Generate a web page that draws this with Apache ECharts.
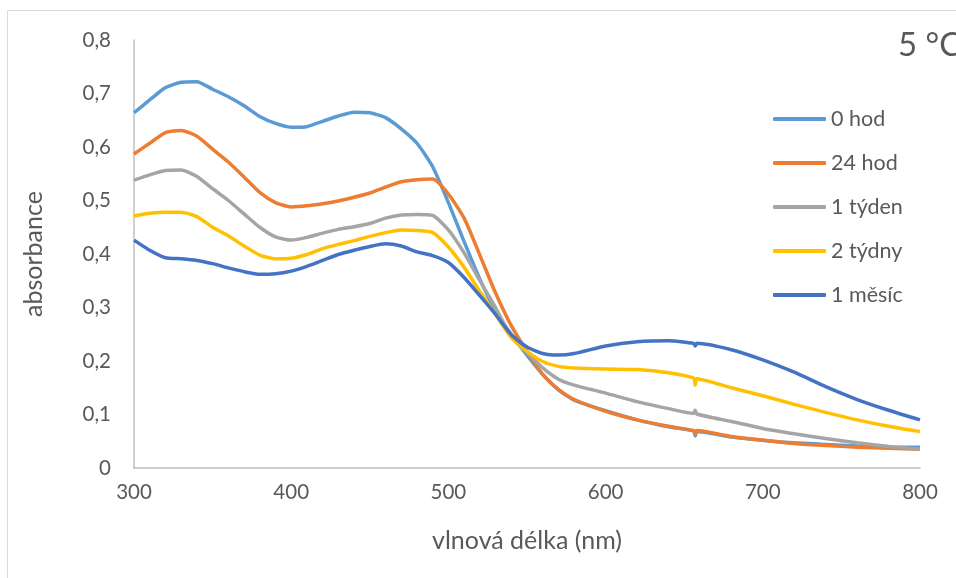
<!DOCTYPE html>
<html>
<head>
<meta charset="utf-8">
<script src="https://cdn.jsdelivr.net/npm/echarts@6/dist/echarts.min.js"></script>
<style>
  html, body { margin: 0; padding: 0; background: #fff; }
  #chart { width: 956px; height: 578px; }
</style>
</head>
<body>
<div id="chart"></div>
<script>
// vlnova delka (nm)
var wavelengths = [300,310,320,330,340,350,360,370,380,390,400,410,420,430,440,450,460,470,480,490,500,510,520,530,540,550,560,570,580,600,620,640,656,657,658,680,700,720,740,760,780,800];

var hod0 = [0.664,0.688,0.711,0.721,0.722,0.708,0.694,0.677,0.657,0.644,0.637,0.638,0.648,0.658,0.665,0.664,0.655,0.634,0.607,0.563,0.496,0.423,0.353,0.293,0.250,0.211,0.175,0.146,0.127,0.107,0.090,0.077,0.069,0.060,0.068,0.058,0.052,0.047,0.044,0.041,0.039,0.039];
var hod24 = [0.587,0.607,0.627,0.631,0.620,0.596,0.572,0.544,0.515,0.496,0.488,0.490,0.494,0.499,0.506,0.514,0.525,0.535,0.539,0.540,0.512,0.467,0.398,0.327,0.266,0.218,0.175,0.147,0.128,0.106,0.090,0.078,0.070,0.064,0.070,0.059,0.052,0.046,0.042,0.039,0.037,0.035];
var tyden1 = [0.538,0.548,0.556,0.557,0.545,0.522,0.500,0.475,0.450,0.432,0.426,0.431,0.439,0.446,0.451,0.457,0.467,0.473,0.474,0.472,0.445,0.402,0.350,0.300,0.245,0.216,0.187,0.166,0.155,0.140,0.124,0.111,0.102,0.108,0.101,0.087,0.074,0.064,0.055,0.047,0.040,0.035];
var tydny2 = [0.471,0.476,0.478,0.478,0.470,0.450,0.434,0.415,0.398,0.391,0.392,0.399,0.410,0.418,0.425,0.433,0.440,0.445,0.444,0.440,0.413,0.375,0.330,0.287,0.244,0.218,0.199,0.190,0.187,0.185,0.184,0.178,0.168,0.155,0.167,0.150,0.135,0.119,0.104,0.090,0.078,0.068];
var mesic1 = [0.426,0.407,0.393,0.391,0.388,0.382,0.374,0.367,0.362,0.363,0.368,0.377,0.388,0.399,0.407,0.414,0.419,0.415,0.404,0.397,0.384,0.356,0.322,0.287,0.249,0.226,0.214,0.211,0.214,0.228,0.236,0.238,0.233,0.228,0.233,0.221,0.202,0.179,0.152,0.128,0.108,0.090];

var seriesNames = ['0 hod', '24 hod', '1 týden', '2 týdny', '1 měsíc'];
var seriesColors = ['#5B9BD5', '#ED7D31', '#A5A5A5', '#FFC000', '#4472C4'];
var seriesValues = [hod0, hod24, tyden1, tydny2, mesic1];

var FONT = 'Lato, "Open Sans", sans-serif';
var TXT = '#595959';

var chart = echarts.init(document.getElementById('chart'));

var series = seriesNames.map(function (name, i) {
  return {
    name: name,
    type: 'line',
    showSymbol: false,
    smooth: 0.2,
    color: seriesColors[i],
    lineStyle: { width: 3.5 },
    data: wavelengths.map(function (w, k) { return [w, seriesValues[i][k]]; })
  };
});

var option = {
  animation: false,
  backgroundColor: '#fff',
  textStyle: { fontFamily: FONT },
  grid: { left: 134, top: 40, right: 36, bottom: 110 },
  graphic: [
    {
      type: 'rect',
      shape: { x: 7.5, y: 10.5, width: 1000, height: 1000 },
      style: { fill: 'none', stroke: '#d9d9d9', lineWidth: 1 },
      silent: true
    },
    {
      type: 'text',
      left: 898,
      top: 29,
      style: { text: '5 °C', fontSize: 33, fill: TXT, fontFamily: FONT }
    }
  ],
  legend: {
    orient: 'vertical',
    left: 773,
    top: 107,
    padding: 0,
    itemWidth: 53,
    itemHeight: 4,
    itemGap: 20,
    icon: 'roundRect',
    textStyle: { fontSize: 21.5, color: TXT, fontFamily: FONT, lineHeight: 24 },
    data: seriesNames
  },
  xAxis: {
    type: 'value',
    min: 300,
    max: 800,
    interval: 100,
    name: 'vlnová délka (nm)',
    nameLocation: 'middle',
    nameGap: 60,
    nameTextStyle: { fontSize: 25, color: TXT, fontFamily: FONT },
    axisLine: { show: true, lineStyle: { color: '#bfbfbf', width: 1.5 } },
    axisTick: { show: false },
    splitLine: { show: false },
    axisLabel: { fontSize: 20.5, color: TXT, margin: 14, fontFamily: FONT }
  },
  yAxis: {
    type: 'value',
    min: 0,
    max: 0.8,
    interval: 0.1,
    name: 'absorbance',
    nameLocation: 'middle',
    nameGap: 88,
    nameTextStyle: { fontSize: 25, color: TXT, fontFamily: FONT },
    axisLine: { show: true, lineStyle: { color: '#bfbfbf', width: 1.5 } },
    axisTick: { show: false },
    splitLine: { show: false },
    axisLabel: {
      fontSize: 20.5, color: TXT, margin: 23, fontFamily: FONT,
      formatter: function (v) { return v === 0 ? '0' : v.toFixed(1).replace('.', ','); }
    }
  },
  series: series
};

chart.setOption(option);
</script>
</body>
</html>
